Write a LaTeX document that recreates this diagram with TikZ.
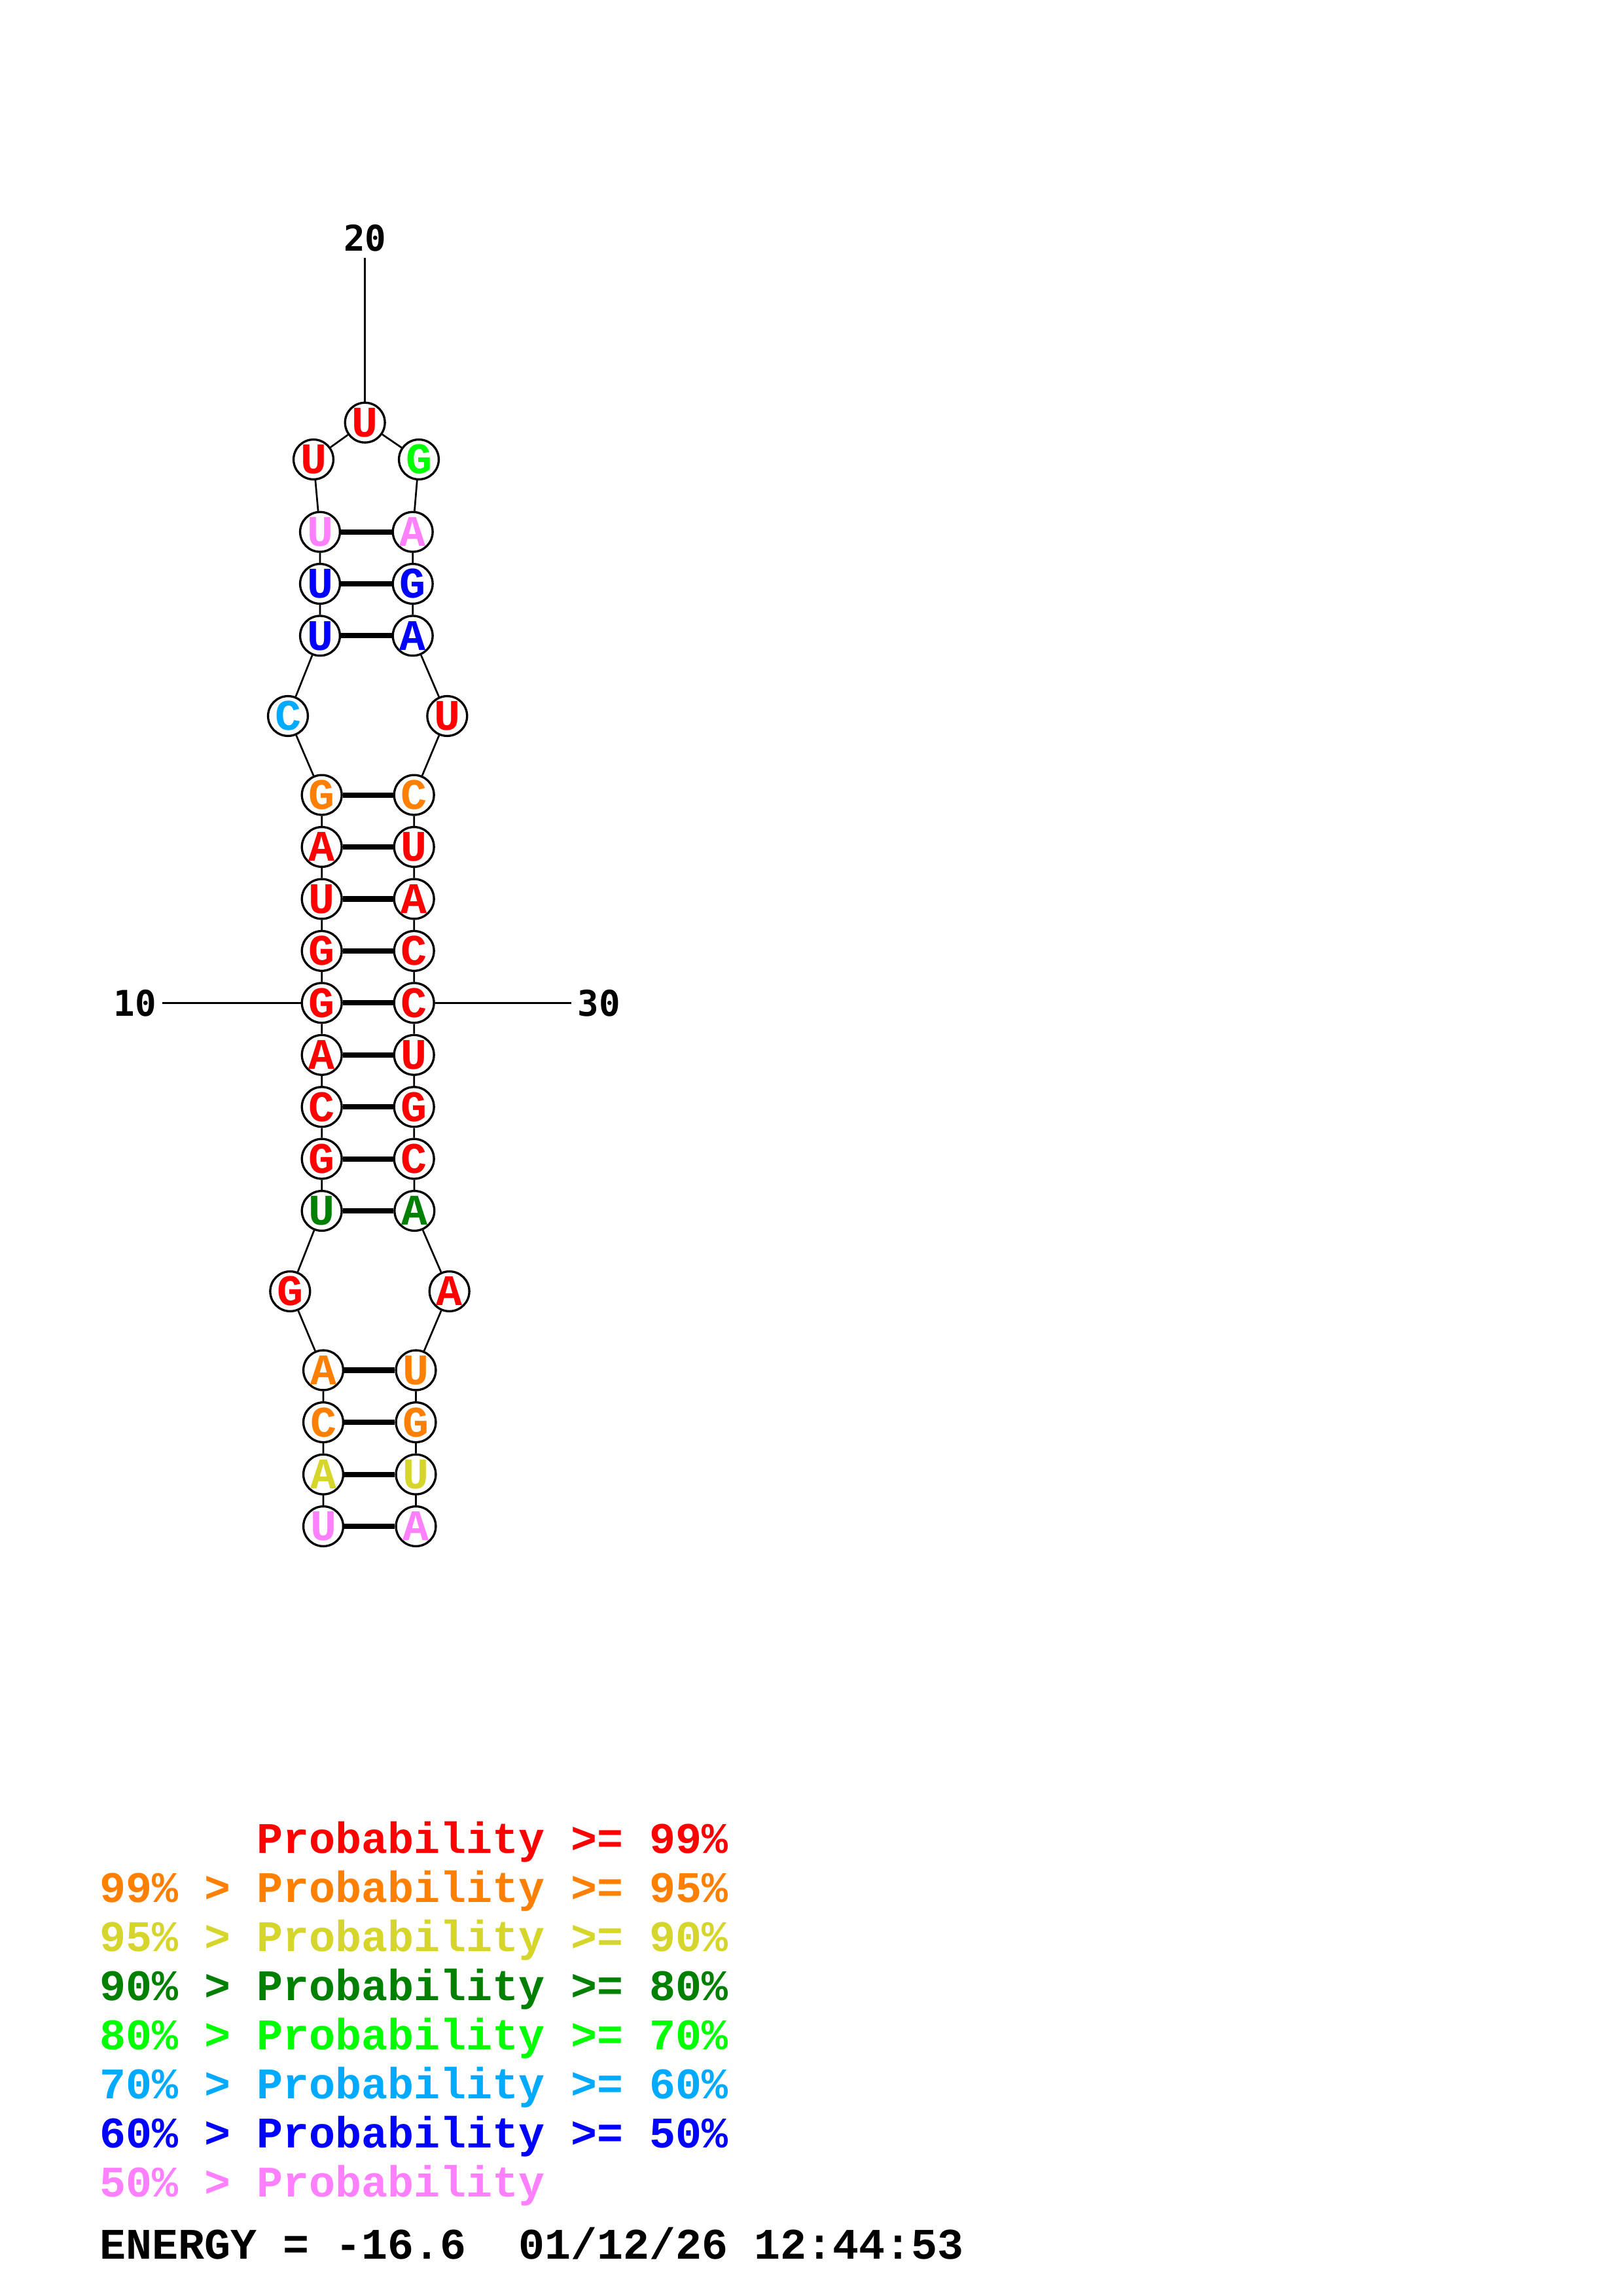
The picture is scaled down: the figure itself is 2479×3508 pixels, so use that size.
\documentclass[tikz,border=0pt]{standalone}
\usepackage{fontspec}
\setmonofont{Liberation Mono}
\newfontfamily\numfont{DejaVu Sans Mono}

\definecolor{pr99}{RGB}{255,0,0}
\definecolor{pr95}{RGB}{255,128,0}
\definecolor{pr90}{RGB}{213,213,43}
\definecolor{pr80}{RGB}{0,128,0}
\definecolor{pr70}{RGB}{0,255,0}
\definecolor{pr60}{RGB}{0,170,255}
\definecolor{pr50}{RGB}{0,0,255}
\definecolor{prlow}{RGB}{255,128,255}

\tikzset{
  nuc/.style={circle, draw, fill=white, line width=0.8pt, inner sep=0pt,
    minimum size=14.6pt, font=\ttfamily\bfseries\fontsize{16}{16}\selectfont},
  backbone/.style={line width=0.65pt},
  pairbond/.style={line width=1.95pt},
  numlabel/.style={inner sep=2pt, font=\numfont\bfseries\fontsize{13}{13}\selectfont},
  legend/.style={anchor=base west, inner sep=0pt, font=\ttfamily\bfseries\fontsize{16}{16}\selectfont}
}

\begin{document}
\begin{tikzpicture}[x=0.24pt, y=-0.24pt]
        \path[fill=white] (0,0) rectangle (2479,3508);

        % Nucleotides
        \node[nuc, text=prlow] (n1) at (494.0,2332.0) {U};
        \node[nuc, text=pr90] (n2) at (494.0,2252.7) {A};
        \node[nuc, text=pr95] (n3) at (494.0,2173.1) {C};
        \node[nuc, text=pr95] (n4) at (494.0,2093.5) {A};
        \node[nuc, text=pr99] (n5) at (443.3,1973.0) {G};
        \node[nuc, text=pr80] (n6) at (491.7,1850.0) {U};
        \node[nuc, text=pr99] (n7) at (491.7,1770.6) {G};
        \node[nuc, text=pr99] (n8) at (491.7,1691.2) {C};
        \node[nuc, text=pr99] (n9) at (491.7,1611.8) {A};
        \node[nuc, text=pr99] (n10) at (491.7,1532.3) {G};
        \node[nuc, text=pr99] (n11) at (491.7,1452.9) {G};
        \node[nuc, text=pr99] (n12) at (491.7,1373.5) {U};
        \node[nuc, text=pr99] (n13) at (491.7,1294.0) {A};
        \node[nuc, text=pr95] (n14) at (491.7,1214.6) {G};
        \node[nuc, text=pr60] (n15) at (440.0,1094.0) {C};
        \node[nuc, text=pr50] (n16) at (489.0,971.4) {U};
        \node[nuc, text=pr50] (n17) at (489.0,892.0) {U};
        \node[nuc, text=prlow] (n18) at (489.0,812.7) {U};
        \node[nuc, text=pr99] (n19) at (479.0,702.0) {U};
        \node[nuc, text=pr99] (n20) at (557.7,645.7) {U};
        \node[nuc, text=pr70] (n21) at (640.0,702.0) {G};
        \node[nuc, text=prlow] (n22) at (630.7,812.7) {A};
        \node[nuc, text=pr50] (n23) at (630.7,892.0) {G};
        \node[nuc, text=pr50] (n24) at (630.7,971.4) {A};
        \node[nuc, text=pr99] (n25) at (683.3,1094.0) {U};
        \node[nuc, text=pr95] (n26) at (632.7,1214.6) {C};
        \node[nuc, text=pr99] (n27) at (632.7,1294.0) {U};
        \node[nuc, text=pr99] (n28) at (632.7,1373.5) {A};
        \node[nuc, text=pr99] (n29) at (632.7,1452.9) {C};
        \node[nuc, text=pr99] (n30) at (632.7,1532.3) {C};
        \node[nuc, text=pr99] (n31) at (632.7,1611.8) {U};
        \node[nuc, text=pr99] (n32) at (632.7,1691.2) {G};
        \node[nuc, text=pr99] (n33) at (632.7,1770.6) {C};
        \node[nuc, text=pr80] (n34) at (633.3,1850.0) {A};
        \node[nuc, text=pr99] (n35) at (686.7,1973.0) {A};
        \node[nuc, text=pr95] (n36) at (635.5,2093.5) {U};
        \node[nuc, text=pr95] (n37) at (635.5,2173.1) {G};
        \node[nuc, text=pr90] (n38) at (635.5,2252.7) {U};
        \node[nuc, text=prlow] (n39) at (635.5,2332.0) {A};

        % Backbone
        \draw[backbone] (n1) -- (n2) -- (n3) -- (n4) -- (n5) -- (n6) -- (n7) -- (n8)
          -- (n9) -- (n10) -- (n11) -- (n12) -- (n13) -- (n14) -- (n15) -- (n16)
          -- (n17) -- (n18) -- (n19) -- (n20) -- (n21) -- (n22) -- (n23) -- (n24)
          -- (n25) -- (n26) -- (n27) -- (n28) -- (n29) -- (n30) -- (n31) -- (n32)
          -- (n33) -- (n34) -- (n35) -- (n36) -- (n37) -- (n38) -- (n39);

        % Pairs
        \draw[pairbond] (n1) -- (n39);
        \draw[pairbond] (n2) -- (n38);
        \draw[pairbond] (n3) -- (n37);
        \draw[pairbond] (n4) -- (n36);
        \draw[pairbond] (n6) -- (n34);
        \draw[pairbond] (n7) -- (n33);
        \draw[pairbond] (n8) -- (n32);
        \draw[pairbond] (n9) -- (n31);
        \draw[pairbond] (n10) -- (n30);
        \draw[pairbond] (n11) -- (n29);
        \draw[pairbond] (n12) -- (n28);
        \draw[pairbond] (n13) -- (n27);
        \draw[pairbond] (n14) -- (n26);
        \draw[pairbond] (n16) -- (n24);
        \draw[pairbond] (n17) -- (n23);
        \draw[pairbond] (n18) -- (n22);

        % Numbering
        \node[numlabel] (l10) at (206,1532.3) {10};
        \node[numlabel] (l20) at (557.7,364) {20};
        \node[numlabel] (l30) at (915,1532.3) {30};
        \draw[backbone] (n10) -- (l10);
        \draw[backbone] (n20) -- (l20);
        \draw[backbone] (n30) -- (l30);

        % Legend
        \node[legend, text=pr99] (leg1) at (152,2831.7) {\phantom{99\% > }Probability >= 99\%};
        \node[legend, text=pr95] (leg2) at (152,2906.7) {99\% > Probability >= 95\%};
        \node[legend, text=pr90] (leg3) at (152,2981.7) {95\% > Probability >= 90\%};
        \node[legend, text=pr80] (leg4) at (152,3056.7) {90\% > Probability >= 80\%};
        \node[legend, text=pr70] (leg5) at (152,3131.7) {80\% > Probability >= 70\%};
        \node[legend, text=pr60] (leg6) at (152,3206.7) {70\% > Probability >= 60\%};
        \node[legend, text=pr50] (leg7) at (152,3281.7) {60\% > Probability >= 50\%};
        \node[legend, text=prlow] (leg8) at (152,3356.7) {50\% > Probability};
        \node[legend] (energy) at (152,3451) {ENERGY = -16.6~~01/12/26 12:44:53};
\end{tikzpicture}
\end{document}
